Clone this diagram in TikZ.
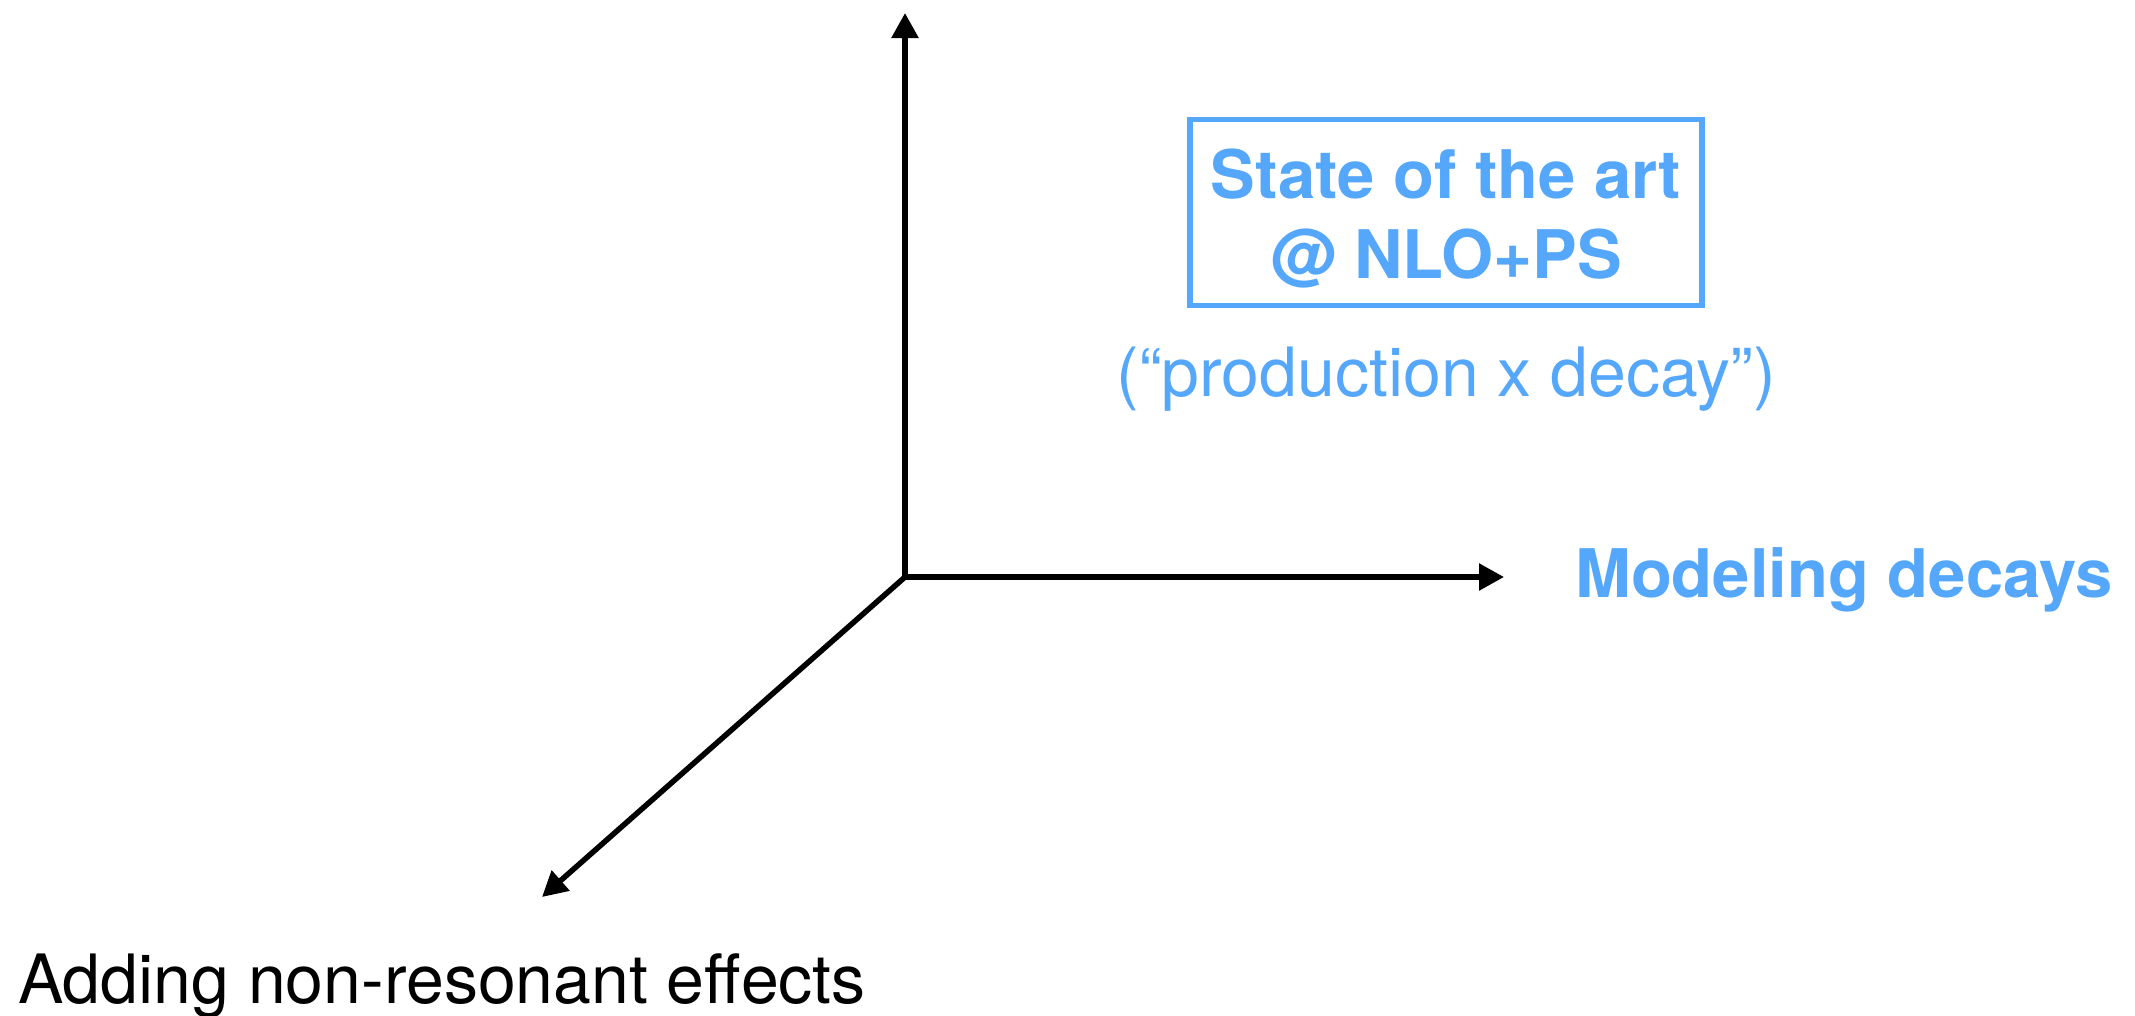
\documentclass[tikz,border=0pt]{standalone}
\usepackage{fontspec}
\setmainfont{TeX Gyre Heros}
\usetikzlibrary{arrows.meta}
\definecolor{skyblue}{RGB}{84,167,250}
\begin{document}
\begin{tikzpicture}[x=1pt,y=-1pt,
  >={Triangle[length=25pt,width=26pt]},
  axisline/.style={line width=5.5pt, line join=miter},
  bluebold/.style={text=skyblue, font=\fontsize{67}{80}\selectfont\bfseries, inner sep=0pt},
  bluelight/.style={text=skyblue, font=\fontsize{68}{80}\selectfont, inner sep=0pt},
  blacklight/.style={text=black, font=\fontsize{68}{80}\selectfont, inner sep=0pt},
  framebox/.style={draw=skyblue, line width=5.5pt, minimum width=512pt, minimum height=186pt, inner sep=0pt},
]
\useasboundingbox (0,0) rectangle (2135,1015);
\coordinate (O) at (905,577);
\coordinate (up) at (905,13);
\coordinate (right) at (1504,577);
\coordinate (diag) at (542,897);
\draw[axisline, <->] (up) -- (O) -- (right);
\draw[axisline, ->] (O) -- (diag);
\node[framebox] (box) at (1446,212.5) {};
\node[bluebold, anchor=base] (l1) at (1446,198) {State of the art};
\node[bluebold, anchor=base] (l2) at (1446,278) {@ NLO+PS};
\node[bluelight, anchor=base] (prod) at (1446,396) {(“production x decay”)};
\node[bluebold, anchor=base west] (model) at (1575,597) {Modeling decays};
\node[blacklight, anchor=base west] (adding) at (18,1003) {Adding non-resonant effects};
\end{tikzpicture}
\end{document}
